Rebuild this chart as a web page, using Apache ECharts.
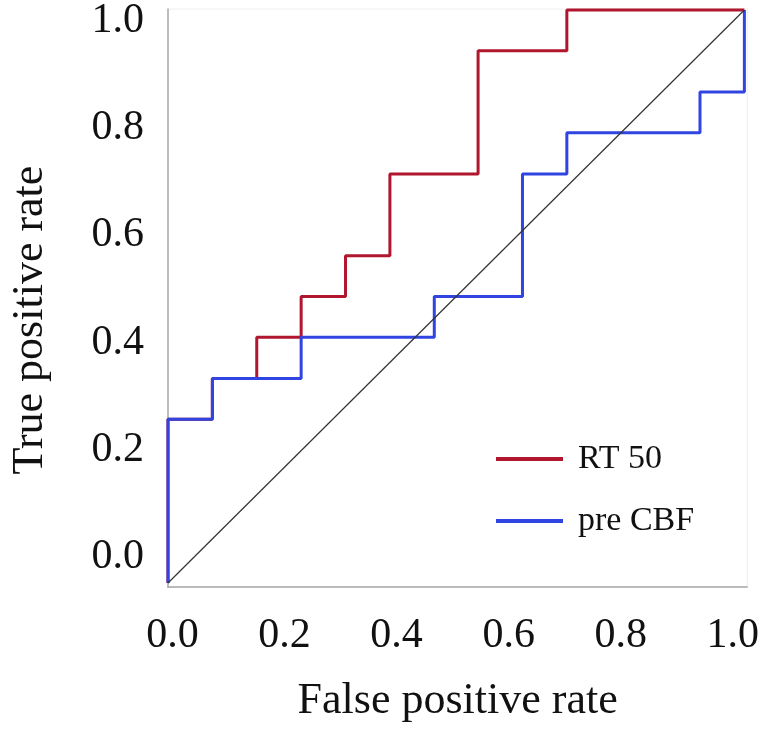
<!DOCTYPE html>
<html>
<head>
<meta charset="utf-8">
<script src="https://cdn.jsdelivr.net/npm/echarts@6/dist/echarts.min.js"></script>
<style>html,body{margin:0;padding:0;background:#fff}#c{width:762px;height:732px}</style>
</head>
<body>
<div id="c"></div>
<script>
// Tick labels
const tickValues = [0, 0.2, 0.4, 0.6, 0.8, 1.0];
const xTitle = 'False positive rate';
const yTitle = 'True positive rate';
const seriesNames = ['RT 50', 'pre CBF'];

// RT 50 ROC corners (false positive rate, true positive rate)
const fprRT50 = [0, 0, 0.077, 0.077, 0.154, 0.154, 0.231, 0.231, 0.308, 0.308, 0.385, 0.385, 0.538, 0.538, 0.692, 0.692, 1.0];
const tprRT50 = [0, 0.286, 0.286, 0.357, 0.357, 0.429, 0.429, 0.5, 0.5, 0.571, 0.571, 0.714, 0.714, 0.929, 0.929, 1.0, 1.0];

// pre CBF ROC corners
const fprCBF = [0, 0, 0.077, 0.077, 0.231, 0.231, 0.462, 0.462, 0.615, 0.615, 0.692, 0.692, 0.923, 0.923, 1.0, 1.0];
const tprCBF = [0, 0.286, 0.286, 0.357, 0.357, 0.429, 0.429, 0.5, 0.5, 0.714, 0.714, 0.786, 0.786, 0.857, 0.857, 1.0];

// Reference diagonal
const diagX = [0, 1];
const diagY = [0, 1];

const zip = (a, b) => a.map((v, i) => [v, b[i]]);
const font = 'Liberation Serif';

const chart = echarts.init(document.getElementById('c'), null, {renderer: 'canvas'});
chart.setOption({
  backgroundColor: '#fff',
  animation: false,
  grid: {left: 166, right: 14, top: 6, bottom: 145, show: true, borderColor: '#eeeeee', borderWidth: 1},
  legend: {
    orient: 'vertical', left: 496, top: 442, padding: 0,
    data: seriesNames, icon: 'rect', itemWidth: 67, itemHeight: 4, itemGap: 28,
    textStyle: {fontFamily: font, fontSize: 34, lineHeight: 33, color: '#111', padding: [0, 0, 0, 10]}
  },
  xAxis: [
    {
      type: 'value', min: -0.008, max: 1.0258, position: 'bottom',
      name: xTitle, nameLocation: 'middle', nameGap: 92,
      nameTextStyle: {fontFamily: font, fontSize: 44, color: '#111'},
      axisLine: {show: true, onZero: false, lineStyle: {color: '#a8a8a8', width: 1.5}},
      axisTick: {show: false}, splitLine: {show: false},
      axisLabel: {customValues: tickValues, formatter: v => v.toFixed(1), margin: 28,
        fontFamily: font, fontSize: 42, color: '#111'}
    },
    {type: 'value', min: 0, max: 1.005, show: false}
  ],
  yAxis: [
    {
      type: 'value', min: -0.0557, max: 1.0223, position: 'left',
      name: yTitle, nameLocation: 'middle', nameGap: 116,
      nameTextStyle: {fontFamily: font, fontSize: 44, color: '#111', padding: [0, 44, 0, 0]},
      axisLine: {show: true, onZero: false, lineStyle: {color: '#a8a8a8', width: 1.5}},
      axisTick: {show: false}, splitLine: {show: false},
      axisLabel: {customValues: tickValues, formatter: v => v.toFixed(1), margin: 24,
        fontFamily: font, fontSize: 42, color: '#111'}
    },
    {type: 'value', min: -0.0069, max: 1.0017, show: false}
  ],
  series: [
    {
      name: seriesNames[0], type: 'line', xAxisIndex: 1, yAxisIndex: 1,
      data: zip(fprRT50, tprRT50), showSymbol: false, clip: false,
      itemStyle: {color: '#b0172f'}, lineStyle: {color: '#b0172f', width: 3}, z: 2
    },
    {
      name: seriesNames[1], type: 'line', xAxisIndex: 1, yAxisIndex: 1,
      data: zip(fprCBF, tprCBF), showSymbol: false, clip: false,
      itemStyle: {color: '#2f44e0'}, lineStyle: {color: '#2f44e0', width: 3}, z: 3
    },
    {
      name: 'diagonal', type: 'line', xAxisIndex: 1, yAxisIndex: 1,
      data: zip(diagX, diagY), showSymbol: false, silent: true,
      lineStyle: {color: '#333', width: 1.2}, z: 4
    }
  ]
});
</script>
</body>
</html>
